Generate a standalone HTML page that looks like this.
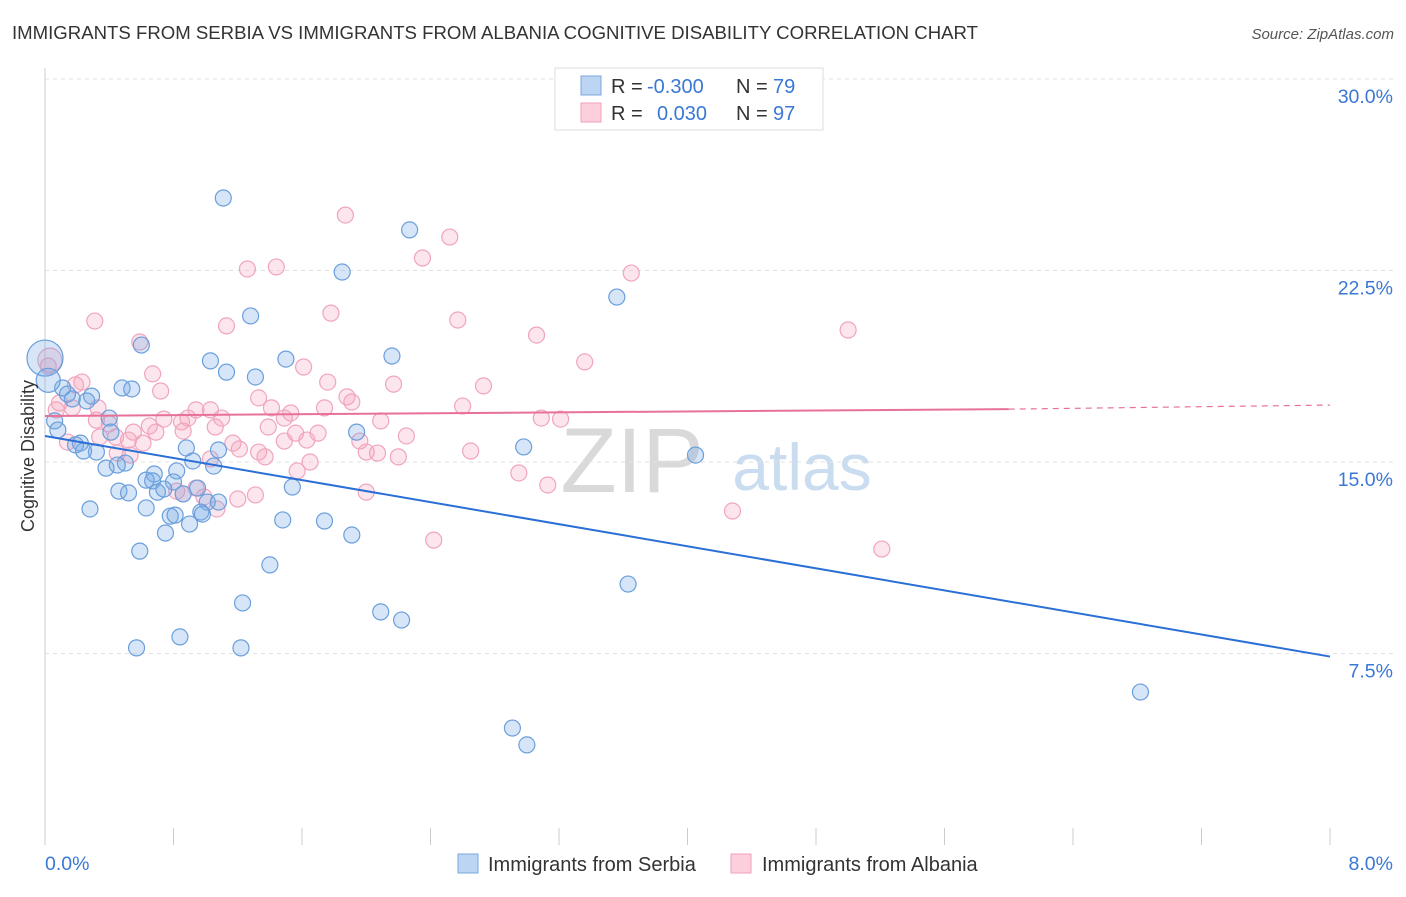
<!DOCTYPE html>
<html><head><meta charset="utf-8"><style>
body{margin:0;background:#fff;font-family:"Liberation Sans",sans-serif;}
svg text{font-family:"Liberation Sans",sans-serif;}
</style></head><body>
<svg id="chart" width="1406" height="892" viewBox="0 0 1406 892" xmlns="http://www.w3.org/2000/svg">
<text x="12" y="39" font-size="18.6" fill="#333">IMMIGRANTS FROM SERBIA VS IMMIGRANTS FROM ALBANIA COGNITIVE DISABILITY CORRELATION CHART</text>
<text x="1394" y="39" font-size="15" fill="#555" font-style="italic" text-anchor="end">Source: ZipAtlas.com</text>
<g>
<text x="632" y="492" font-size="92" fill="#d9d9d9" font-family="Liberation Serif, serif" text-anchor="middle">ZIP</text>
<text x="802" y="490" font-size="66" fill="#c9dcf0" text-anchor="middle">atlas</text>
</g>
<g id="grid"></g>
<g id="axes"></g>
<g id="pts"></g>
<g id="trends"></g>
<text transform="translate(34,456) rotate(-90)" font-size="18" fill="#333" text-anchor="middle">Cognitive Disability</text>
<g>
<rect x="555" y="68" width="268" height="62" fill="#fff" stroke="#ddd"/>
<rect x="581" y="76" width="20" height="19" fill="#bcd5f2" stroke="#7aa8e0"/>
<rect x="581" y="103" width="20" height="19" fill="#fbd0dc" stroke="#f0a0b8"/>
<text x="611" y="93" font-size="20" fill="#333">R =</text>
<text x="647" y="93" font-size="20" fill="#3a78d4">-0.300</text>
<text x="736" y="93" font-size="20" fill="#333">N =</text>
<text x="773" y="93" font-size="20" fill="#3a78d4">79</text>
<text x="611" y="120" font-size="20" fill="#333">R =</text>
<text x="657" y="120" font-size="20" fill="#3a78d4">0.030</text>
<text x="736" y="120" font-size="20" fill="#333">N =</text>
<text x="773" y="120" font-size="20" fill="#3a78d4">97</text>
</g>
<g>
<rect x="458" y="854" width="20" height="19" fill="#bcd5f2" stroke="#7aa8e0"/>
<text x="488" y="871" font-size="20" fill="#333">Immigrants from Serbia</text>
<rect x="731" y="854" width="20" height="19" fill="#fbd0dc" stroke="#f0a0b8"/>
<text x="762" y="871" font-size="20" fill="#333">Immigrants from Albania</text>
</g>
</svg>
<script>
const serbiaX=[1.11,2.27,1.85,3.56,1.28,0.60,1.03,1.50,2.16,1.13,1.31,0.48,0.54,0.11,0.17,0.29,0.26,0.14,0.06,0.08,0.40,0.41,0.22,0.19,0.32,0.24,1.94,2.98,4.05,0.88,1.08,0.50,0.45,0.38,0.92,1.05,0.68,0.82,0.63,0.67,0.80,1.54,0.46,0.52,0.70,0.74,0.86,0.95,1.01,1.08,0.63,0.28,0.78,0.81,0.97,0.98,0.90,1.48,1.74,0.75,1.91,0.59,1.40,3.63,1.23,2.09,2.22,0.84,0.57,1.22,6.82,2.91,3.00,0.0,0.02];
const serbiaY=[25.34,24.09,22.44,21.46,20.72,19.58,18.96,19.03,19.15,18.52,18.33,17.90,17.86,17.90,17.47,17.58,17.39,17.66,16.61,16.25,16.72,16.17,15.74,15.67,15.39,15.43,16.17,15.59,15.27,15.55,15.47,14.96,14.88,14.76,15.04,14.84,14.53,14.65,14.29,14.26,14.22,14.02,13.86,13.79,13.82,13.94,13.75,13.98,13.43,13.43,13.20,13.16,12.88,12.92,13.04,12.96,12.57,12.73,12.69,12.22,12.14,11.51,10.97,10.22,9.48,9.13,8.81,8.15,7.72,7.72,5.99,4.58,3.92,19.07,18.2];
const serbiaR=[8,8,8,8,8,8,8,8,8,8,8,8,8,8,8,8,8,8,8,8,8,8,8,8,8,8,8,8,8,8,8,8,8,8,8,8,8,8,8,8,8,8,8,8,8,8,8,8,8,8,8,8,8,8,8,8,8,8,8,8,8,8,8,8,8,8,8,8,8,8,8,8,8,18,12];
const albaniaX=[1.87,2.52,2.35,1.44,1.26,3.65,1.78,0.31,2.57,1.13,5.00,3.06,0.59,3.36,1.61,0.67,0.23,0.19,0.02,1.76,2.17,2.73,0.72,1.33,1.88,1.91,0.09,0.07,0.17,0.33,1.03,0.94,1.41,1.53,1.74,2.60,0.89,0.74,0.85,0.40,0.32,0.65,1.10,3.09,3.21,2.09,1.39,1.49,1.06,0.86,0.55,0.69,1.70,1.56,2.25,0.34,0.44,0.52,0.14,1.63,1.96,0.61,1.17,1.49,1.21,1.33,2.00,2.07,2.20,2.65,0.45,0.53,1.37,1.03,1.65,1.57,2.95,3.13,2.00,0.94,0.82,0.86,1.31,1.20,0.99,1.07,4.28,2.42,5.21,0.03];
const albaniaY=[24.67,23.81,22.99,22.64,22.56,22.40,20.83,20.52,20.56,20.33,20.17,19.97,19.70,18.92,18.72,18.45,18.13,18.02,18.76,18.13,18.05,17.98,17.78,17.51,17.55,17.35,17.31,17.04,17.12,17.12,17.04,17.04,17.12,16.92,17.12,17.19,16.72,16.68,16.57,16.49,16.64,16.41,16.72,16.72,16.68,16.61,16.37,16.72,16.37,16.21,16.17,16.17,16.13,16.13,16.02,15.98,15.98,15.86,15.78,15.86,15.82,15.74,15.74,15.82,15.51,15.39,15.39,15.35,15.20,15.43,15.35,15.27,15.20,15.12,15.00,14.65,14.57,14.10,13.82,13.98,13.86,13.75,13.71,13.55,13.63,13.16,13.08,11.94,11.59,18.99];
const yTicks=[7.5,15.0,22.5,30.0];
const yTickLabels=["7.5%","15.0%","22.5%","30.0%"];
const xTicks=[0,0.8,1.6,2.4,3.2,4.0,4.8,5.6,6.4,7.2,8.0];
const serbiaTrend=[16.02,7.38];
const albaniaTrend=[16.8,17.07,17.23];

const X0=45,X1=1330,Y0=845,YPX=191.5/7.5;
const sx=v=>X0+(v/8)*(X1-X0);
const sy=v=>Y0-v*YPX;
const NS="http://www.w3.org/2000/svg";
function mk(parent,tag,attrs){const e=document.createElementNS(NS,tag);for(const k in attrs)e.setAttribute(k,attrs[k]);parent.appendChild(e);return e;}
const grid=document.getElementById('grid'),axes=document.getElementById('axes'),pts=document.getElementById('pts'),trends=document.getElementById('trends');
yTicks.forEach((t,i)=>{
 const l=mk(grid,'line',{x1:X0,x2:1394,y1:sy(t),y2:sy(t),stroke:'#e2e2e2','stroke-dasharray':'4,4'});
 
 
 const tx=mk(axes,'text',{x:1393,y:sy(t)+24,'font-size':19.5,fill:'#3a78d4','text-anchor':'end'});
 tx.textContent=yTickLabels[i];
 
 
});
const al=mk(axes,'line',{x1:X0,x2:X0,y1:68,y2:Y0,stroke:'#ccc'});


xTicks.forEach(t=>{
 const l=mk(axes,'line',{x1:sx(t),x2:sx(t),y1:828,y2:Y0,stroke:'#ccc'});
 
 
});
const xl=mk(axes,'text',{x:45,y:870,'font-size':19.5,fill:'#3a78d4'});xl.textContent='0.0%';


const xr=mk(axes,'text',{x:1393,y:870,'font-size':19.5,fill:'#3a78d4','text-anchor':'end'});xr.textContent='8.0%';


albaniaX.forEach((x,i)=>{
 const c=mk(pts,'circle',{cx:sx(x),cy:sy(albaniaY[i]),r:i==albaniaX.length-1?12:8,fill:'rgba(245,160,185,0.28)',stroke:'#f0a5bd','stroke-width':1.2});
 
 
});
serbiaX.forEach((x,i)=>{
 const c=mk(pts,'circle',{cx:sx(x),cy:sy(serbiaY[i]),r:serbiaR[i],fill:'rgba(120,170,230,0.3)',stroke:'#6a9fdc','stroke-width':1.2});
 
 
});
const bt=mk(trends,'line',{x1:sx(0),y1:sy(serbiaTrend[0]),x2:sx(8),y2:sy(serbiaTrend[1]),stroke:'#2a6fd6','stroke-width':2});


const pt=mk(trends,'line',{x1:sx(0),y1:sy(albaniaTrend[0]),x2:sx(6),y2:sy(albaniaTrend[1]),stroke:'#e8719a','stroke-width':2});


const pd=mk(trends,'line',{x1:sx(6),y1:sy(albaniaTrend[1]),x2:sx(8),y2:sy(albaniaTrend[2]),stroke:'#e8719a','stroke-width':1.2,'stroke-dasharray':'6,5'});


</script>
</body></html>
